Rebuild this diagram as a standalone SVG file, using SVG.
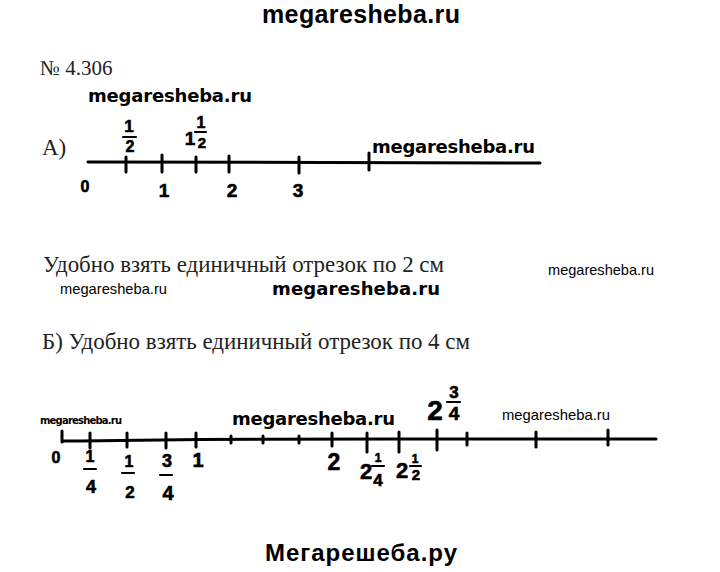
<svg xmlns="http://www.w3.org/2000/svg" width="720" height="572" viewBox="0 0 720 572">
<style>
.bg{fill:#fff}
.wm{font-family:"Liberation Sans",Arial,sans-serif;font-weight:bold;fill:#000}
.wmb{font-family:"DejaVu Sans",Verdana,sans-serif;font-weight:bold;fill:#000}
.wmt{font-family:"Liberation Sans",Arial,sans-serif;fill:#000}
.txt{font-family:"Liberation Serif","Times New Roman",serif;fill:#222}
.hw{font-family:"Liberation Sans",Arial,sans-serif;font-weight:bold;fill:#000;stroke:#000;stroke-width:0.6;text-anchor:middle}
.ln{stroke:#000;stroke-width:3;fill:none;stroke-linecap:round}
.tk{stroke:#000;stroke-width:3;fill:none;stroke-linecap:round}
.fb{stroke:#000;stroke-width:2.2;fill:none;stroke-linecap:round}
</style>
<rect class="bg" x="0" y="0" width="720" height="572"/>

<text class="wm" x="262" y="23" font-size="25" textLength="198">megaresheba.ru</text>
<text class="txt" x="40" y="75" font-size="21">№ 4.306</text>
<text class="wmb" x="88" y="102" font-size="18" textLength="164">megaresheba.ru</text>
<text class="txt" x="42" y="155" font-size="23">А)</text>
<text class="wmb" x="372" y="153" font-size="18" textLength="163">megaresheba.ru</text>

<g id="axisA">
  <path class="ln" d="M88 162 L325 162.5 L540 163"/>
  <path class="tk" d="M126 157 L126 172 M162 155 L162 172 M196 157 L196 172 M229 156 L229 172 M299 157 L299 173 M369 153 L369 170"/>
</g>
<g id="labelsA">
  <text class="hw" x="85" y="192" font-size="16">0</text>
  <text class="hw" x="164" y="197" font-size="19">1</text>
  <text class="hw" x="232" y="197" font-size="19">2</text>
  <text class="hw" x="298" y="197" font-size="19">3</text>
  <text class="hw" x="129" y="132" font-size="17">1</text>
  <line class="fb" x1="123" y1="137" x2="136" y2="137"/>
  <text class="hw" x="130" y="152" font-size="16">2</text>
  <text class="hw" x="190" y="145" font-size="19">1</text>
  <text class="hw" x="201" y="128" font-size="16">1</text>
  <line class="fb" x1="195" y1="132" x2="206" y2="132"/>
  <text class="hw" x="202" y="148" font-size="15">2</text>
</g>

<text class="txt" x="43" y="272" font-size="23" textLength="401" lengthAdjust="spacingAndGlyphs">Удобно взять единичный отрезок по 2 см</text>
<text class="wmt" x="548" y="275" font-size="15" textLength="106" lengthAdjust="spacingAndGlyphs">megaresheba.ru</text>
<text class="wmt" x="60" y="294" font-size="15" textLength="107" lengthAdjust="spacingAndGlyphs">megaresheba.ru</text>
<text class="wmb" x="272" y="295" font-size="18" textLength="168">megaresheba.ru</text>
<text class="txt" x="42" y="349" font-size="23" textLength="428" lengthAdjust="spacingAndGlyphs">Б) Удобно взять единичный отрезок по 4 см</text>

<text class="wmb" x="40" y="424" font-size="10" textLength="82">megaresheba.ru</text>
<text class="wmb" x="232" y="425" font-size="18" textLength="163">megaresheba.ru</text>
<text class="wmt" x="502" y="420" font-size="15" textLength="108" lengthAdjust="spacingAndGlyphs">megaresheba.ru</text>

<g id="axisB">
  <path class="ln" d="M62 431 L62 442 M62 441 L80 441 L200 439.5 L400 439 L656 439"/>
  <path class="tk" d="M90 433 L90 448 M127 433 L127 447 M166 433 L166 448 M196 433 L196 447 M231 436 L231 443 M263 436 L263 443 M299 436 L299 443 M332 433 L332 446 M367 433 L367 452 M399 432 L399 452 M437 430 L437 450 M467 433 L467 445 M536 432 L536 447 M608 430 L608 445"/>
</g>
<g id="labelsB">
  <text class="hw" x="56" y="463" font-size="16">0</text>
  <text class="hw" x="90" y="462" font-size="16">1</text>
  <line class="fb" x1="84" y1="469" x2="96" y2="469"/>
  <text class="hw" x="91" y="493" font-size="18">4</text>
  <text class="hw" x="129" y="467" font-size="16">1</text>
  <line class="fb" x1="122" y1="473" x2="134" y2="473"/>
  <text class="hw" x="130" y="498" font-size="17">2</text>
  <text class="hw" x="167" y="467" font-size="18">3</text>
  <line class="fb" x1="160" y1="475" x2="172" y2="475"/>
  <text class="hw" x="168" y="500" font-size="20">4</text>
  <text class="hw" x="198" y="467" font-size="20">1</text>
  <text class="hw" x="334" y="470" font-size="23">2</text>
  <text class="hw" x="366" y="479" font-size="22">2</text>
  <text class="hw" x="378" y="462" font-size="12">1</text>
  <line class="fb" x1="372" y1="466" x2="384" y2="466"/>
  <text class="hw" x="378" y="486" font-size="17">4</text>
  <text class="hw" x="402" y="478" font-size="22">2</text>
  <text class="hw" x="415" y="463" font-size="12">1</text>
  <line class="fb" x1="410" y1="466" x2="421" y2="466"/>
  <text class="hw" x="416" y="480" font-size="15">2</text>
  <text class="hw" x="435" y="420" font-size="28">2</text>
  <text class="hw" x="454" y="398" font-size="17">3</text>
  <line class="fb" x1="447" y1="402" x2="460" y2="402"/>
  <text class="hw" x="454" y="420" font-size="19">4</text>
</g>

<text class="wm" x="265" y="561" font-size="24" textLength="192">Мегарешеба.ру</text>
</svg>
